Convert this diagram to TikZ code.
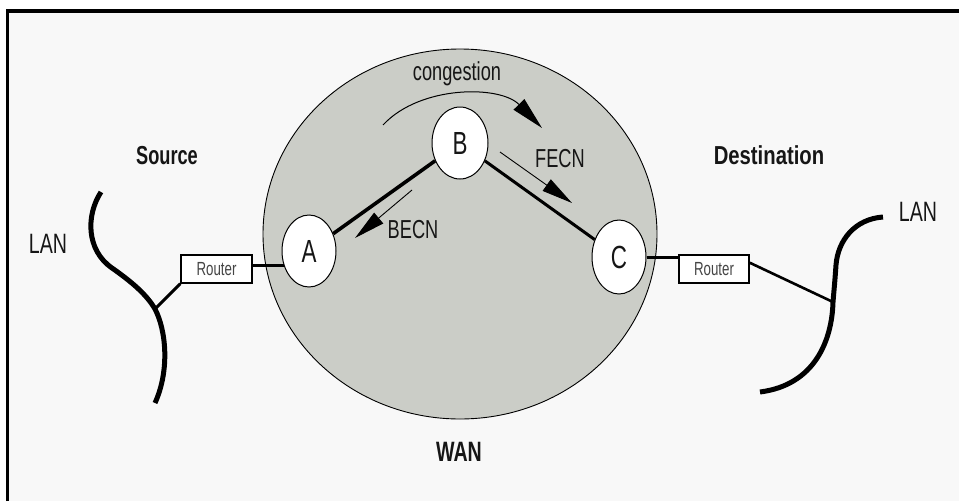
\documentclass[tikz,border=0pt]{standalone}
\usepackage{fontspec}
\usetikzlibrary{shapes.geometric,arrows.meta,calc}
\newfontfamily\cf[FakeStretch=0.70]{Liberation Sans}
\newfontfamily\cfw[FakeStretch=0.78]{Liberation Sans}
\definecolor{wanfill}{RGB}{203,205,199}
\definecolor{paper}{RGB}{248,248,248}
\definecolor{ink}{RGB}{22,22,22}
\begin{document}
\begin{tikzpicture}[x=1pt,y=-1pt,
  site/.style={ellipse, draw=black, line width=1pt, fill=white, inner sep=0pt,
    font=\cf\fontsize{32}{32}\selectfont, text=ink},
  routerbox/.style={rectangle, draw=black, line width=1.4pt, fill=white,
    minimum width=71pt, minimum height=28pt, inner sep=0pt,
    font=\cf\fontsize{19}{19}\selectfont, text=ink!80},
  txt/.style={inner sep=0pt, anchor=base, text=ink},
  reg/.style={font=\cf\fontsize{26}{26}\selectfont},
  hd/.style={font=\cf\bfseries\fontsize{26}{26}\selectfont},
  lan/.style={line width=5pt, line cap=butt},
  link/.style={line width=3pt},
  trunk/.style={line width=3.6pt},
  signal/.style={line width=0.9pt, -{Triangle[length=31pt,width=14pt]}},
]
\useasboundingbox (0,0) rectangle (959,501);

% page and frame
\fill[white] (0,0) rectangle (959,501);
\fill[paper] (7.5,11) rectangle (959,501);
\draw[line width=3.2pt] (7.5,501) -- (7.5,11) -- (959,11);

% wide area network cloud
\node[ellipse, draw=black, line width=0.9pt, fill=wanfill, inner sep=0pt,
  minimum width=394pt, minimum height=370pt] (wan) at (460,234) {};

% switching sites
\node[site, minimum width=54pt, minimum height=72pt] (A) at (309,251) {A};
\node[site, minimum width=56pt, minimum height=72pt] (B) at (460,143) {B};
\node[site, minimum width=54pt, minimum height=74pt] (C) at (619,257) {C};

\draw[trunk] (A) -- (B);
\draw[line width=3pt] (B) -- (C);

% routers
\node[routerbox] (rL) at (216.5,269) {Router};
\node[routerbox, minimum width=70pt] (rR) at (714,269) {Router};

\draw[link] (rL.east |- A.210) -- (A.210);
\draw[link] (C.east) -- (C.east -| rR.west);

% source LAN segment
\coordinate (jL) at (155,309);
\draw[lan] (101,192) .. controls (86,215) and (86,250) .. (112,268)
  .. controls (132,282) and (147,295) .. (jL)
  .. controls (166,330) and (170,370) .. (155,403);
\draw[link] (jL) -- (rL.south west);

% destination LAN segment
\coordinate (jR) at (833,302);
\draw[lan] (883,217) .. controls (855,219) and (838,240) .. (836,265)
  .. controls (835,280) and (834,290) .. (jR)
  .. controls (832,340) and (815,385) .. (760,392);
\draw[line width=2.6pt] (rR.10) -- (jR);

% congestion notifications
\coordinate (cg0) at (383,125);
\coordinate (cg1) at (542,128);
\draw[line width=1pt, -{Triangle[length=33pt,width=15pt]}]
  (cg0) .. controls (420,85) and (500,85) .. (cg1);
\coordinate (fe0) at (500,152);
\coordinate (fe1) at (572,203);
\draw[signal] (fe0) -- (fe1);
\coordinate (be0) at (412,190);
\coordinate (be1) at (355,238);
\draw[signal] (be0) -- (be1);

% labels
\node[txt, reg] (tcong) at (457,80) {congestion};
\node[txt, reg] (tfecn) at (560,167) {FECN};
\node[txt, reg] (tbecn) at (413,238) {BECN};
\node[txt, hd] (tsrc) at (167,164) {Source};
\node[txt, font=\cfw\bfseries\fontsize{26}{26}\selectfont] (tdst) at (769,164) {Destination};
\node[txt, font=\cf\bfseries\fontsize{28}{28}\selectfont] (twan) at (459,461) {WAN};
\node[txt, font=\cf\fontsize{28}{28}\selectfont] (tlanL) at (48,253) {LAN};
\node[txt, font=\cf\fontsize{28}{28}\selectfont] (tlanR) at (918,221) {LAN};
\end{tikzpicture}
\end{document}
